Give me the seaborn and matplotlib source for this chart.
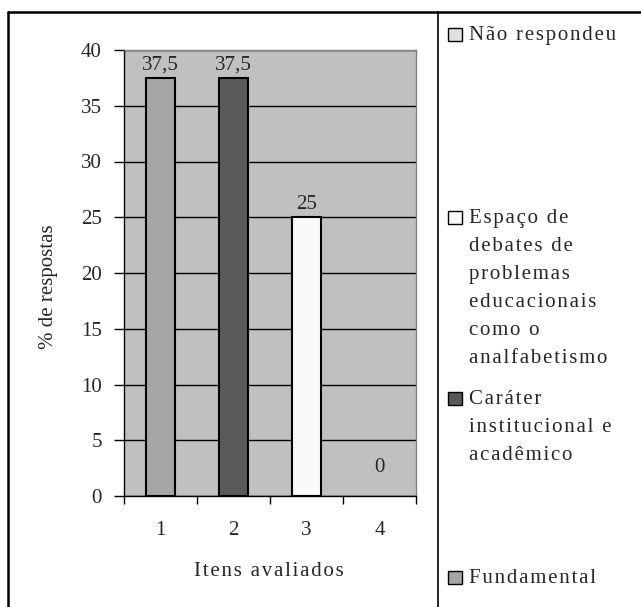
import pandas as pd
import seaborn as sns
from matplotlib import pyplot as plt
from matplotlib.patches import Rectangle
from matplotlib.lines import Line2D

# Data
items = ['1', '2', '3', '4']
values = [37.5, 37.5, 25, 0]
value_labels = ['37,5', '37,5', '25', '0']
legend_labels = ['Fundamental',
                 'Caráter\ninstitucional e\nacadêmico',
                 'Espaço de\ndebates de\nproblemas\neducacionais\ncomo o\nanalfabetismo',
                 'Não respondeu']
bar_colors = ['#a6a6a6', '#595959', '#fafafa', '#e0e0e0']
yticks = [0, 5, 10, 15, 20, 25, 30, 35, 40]

FS = 15
W, H = 641, 607


def spaced(s, gap='\u200a'):
    # mimic the wide letter spacing of the original
    return gap.join(s)


def fx(px):
    return px / W


def fy(py):
    return 1 - py / H


sns.set_theme(style='white')
plt.rcParams['font.family'] = ['Liberation Serif', 'DejaVu Serif']

df = pd.DataFrame({'item': items, 'value': values})

fig = plt.figure(figsize=(W / 100, H / 100), dpi=100, facecolor='white')
ax = fig.add_axes([fx(124), fy(496), (416 - 124) / W, (496 - 50) / H])
ax.set_facecolor('#c0c0c0')

sns.barplot(data=df, x='item', y='value', hue='item', palette=bar_colors, legend=False,
            width=0.41, edgecolor='black', linewidth=1.5, ax=ax)
for b, v in zip(ax.patches, values):
    b.set_zorder(3)
    if v == 0:
        b.set_visible(False)

ax.set_ylim(0, 40)
ax.set_xlim(-0.5, 3.5)
ax.set_yticks(yticks)
ax.yaxis.grid(True, color='black', linewidth=1)
ax.set_axisbelow(True)

# ticks: y outward at values, x outward between categories
ax.tick_params(axis='y', direction='out', length=7, width=1, color='black', left=True,
               labelsize=FS, pad=9)
ax.set_xticks([-0.5, 0.5, 1.5, 2.5, 3.5], minor=False)
ax.set_xticklabels([])
ax.set_xticks([0, 1, 2, 3], minor=True)
ax.set_xticklabels(items, minor=True)
ax.tick_params(axis='x', which='major', direction='out', length=6, width=1, color='black', bottom=True)
ax.tick_params(axis='x', which='minor', length=0, labelsize=FS, pad=18)

for name, sp in ax.spines.items():
    sp.set_color('#808080')
    sp.set_linewidth(1)
ax.spines['left'].set_color('black')
ax.spines['bottom'].set_color('black')

ax.set_xlabel(spaced('Itens avaliados'), fontsize=FS)
ax.xaxis.set_label_coords(fx(269), fy(562), transform=fig.transFigure)
ax.set_ylabel('% de respostas', fontsize=FS)
ax.yaxis.set_label_coords(fx(58), fy(287), transform=fig.transFigure)

for i, (v, lab) in enumerate(zip(values, value_labels)):
    y = v + 0.3 if v > 0 else 1.7
    ax.text(i, y, lab, ha='center', va='bottom', fontsize=FS, zorder=4)

# outer frame (runs off the bottom/right edge) and divider
fig.add_artist(Line2D([fx(8), 1], [fy(12), fy(12)], transform=fig.transFigure,
                      color='black', linewidth=1.8))
fig.add_artist(Line2D([fx(8), fx(8)], [0, fy(12)], transform=fig.transFigure,
                      color='black', linewidth=1.8))
fig.add_artist(Line2D([fx(438), fx(438)], [0, fy(12)],
                      transform=fig.transFigure, color='black', linewidth=1.2))

# legend drawn by hand (Excel style, reversed order, spread out)
legend_baseline = [40, 223, 404, 583]
line_pitch = 28
for lab, col, base in zip(legend_labels[::-1], bar_colors[::-1], legend_baseline):
    fig.add_artist(Rectangle((fx(448), fy(base + 1)), 14 / W, 13 / H, transform=fig.transFigure,
                             facecolor=col, edgecolor='black', linewidth=1))
    for k, line in enumerate(lab.split('\n')):
        fig.text(fx(469), fy(base + k * line_pitch), spaced(line), ha='left', va='baseline',
                 fontsize=FS)

fig.savefig('out.png', dpi=100)
